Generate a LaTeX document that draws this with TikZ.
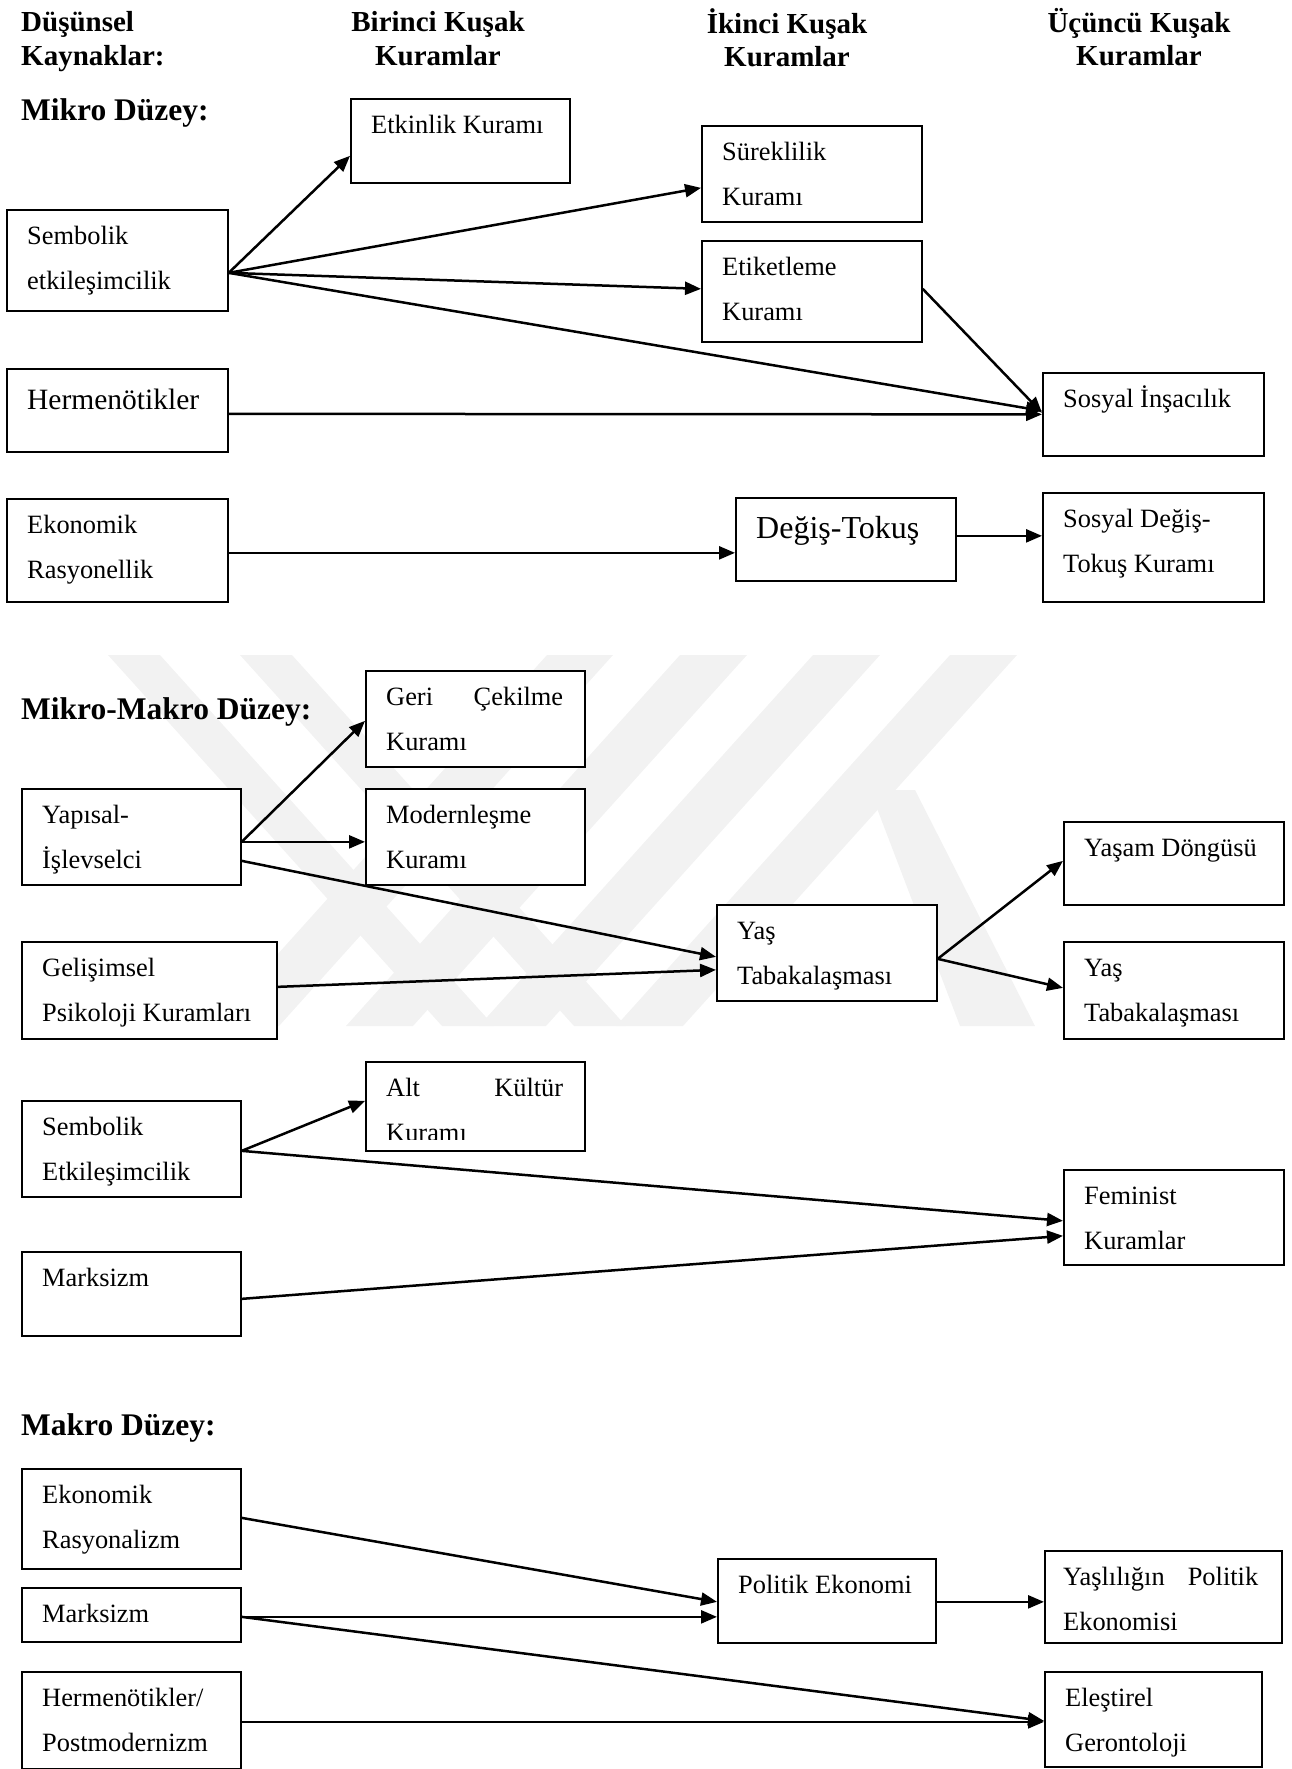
\documentclass[tikz,border=0pt]{standalone}
\usepackage{fontspec}
\setmainfont{Liberation Serif}
\usetikzlibrary{arrows.meta}
\newcommand\govde{\fontsize{26.4}{45}\selectfont}
\newcommand\baslikfont{\fontsize{29}{33.5}\selectfont\bfseries}
\newcommand\duzeyfont{\fontsize{31.5}{38}\selectfont\bfseries}
\begin{document}
\begin{tikzpicture}[x=1pt,y=-1pt,
  kutu/.style 2 args={draw,fill=white,line width=1.7pt,anchor=north west,inner sep=0,minimum width=#1,minimum height=#2},
  yazi/.style={anchor=north west,inner sep=0,align=left,font=\govde},
  ok/.style={line width=2.5pt,-{Triangle[length=16pt,width=13pt]}},
  baslik/.style={anchor=north,inner sep=0,align=center,font=\baslikfont},
  duzey/.style={anchor=base west,inner sep=0,font=\duzeyfont},
  filigran/.style={fill=black!5}]
\useasboundingbox (0,0) rectangle (1292,1769);
% watermark
\begin{scope}
\clip (60,655) rectangle (1100,1026);
\fill[filigran] (108,655) -- (160,655) -- (494,1026) -- (442,1026) -- cycle;
\fill[filigran] (240,655) -- (292,655) -- (626,1026) -- (574,1026) -- cycle;
\fill[filigran] (547,655) -- (613,655) -- (279,1026) -- (213,1026) -- cycle;
\fill[filigran] (680,655) -- (747,655) -- (413,1026) -- (346,1026) -- cycle;
\fill[filigran] (813,655) -- (880,655) -- (546,1026) -- (479,1026) -- cycle;
\fill[filigran] (950,655) -- (1017,655) -- (683,1026) -- (616,1026) -- cycle;
\fill[filigran] (870,790) -- (915,790) -- (1035,1026) -- (960,1026) -- cycle;
\end{scope}
% headings
\node[baslik,anchor=north west,align=left] (kaynak) at (21,8) {\strut Düşünsel\\Kaynaklar:};
\node[baslik] (birinci) at (438,8) {\strut Birinci Kuşak\\Kuramlar};
\node[baslik] (ikinci) at (787,8) {\strut İkinci Kuşak\\Kuramlar};
\node[baslik] (ucuncu) at (1139,8) {\strut Üçüncü Kuşak\\Kuramlar};
\node[duzey] (mikro) at (21,120) {Mikro Düzey:};
\node[duzey] (mikromakro) at (21,719) {Mikro-Makro Düzey:};
\node[duzey] (makro) at (21,1435) {Makro Düzey:};
% mikro
\node[kutu={219}{84}] (etkinlik) at (350,98) {};
\node[yazi] (etkinlik-y) at ([shift={(21,4)}]etkinlik.north west) {\strut Etkinlik Kuramı};
\node[kutu={220}{96}] (sureklilik) at (701,125) {};
\node[yazi] (sureklilik-y) at ([shift={(21,4)}]sureklilik.north west) {\strut Süreklilik\\Kuramı};
\node[kutu={220}{101}] (etiketleme) at (701,240) {};
\node[yazi] (etiketleme-y) at ([shift={(21,4)}]etiketleme.north west) {\strut Etiketleme\\Kuramı};
\node[kutu={221}{101}] (sembolik) at (6,209) {};
\node[yazi] (sembolik-y) at ([shift={(21,4)}]sembolik.north west) {\strut Sembolik\\etkileşimcilik};
\node[kutu={221}{83}] (herm) at (6,368) {};
\node[yazi,font=\fontsize{29.5}{45}\selectfont] (herm-y) at ([shift={(21,9.5)}]herm.north west) {\strut Hermenötikler};
\node[kutu={221}{83}] (insacilik) at (1042,372) {};
\node[yazi] (insacilik-y) at ([shift={(21,4)}]insacilik.north west) {\strut Sosyal İnşacılık};
\node[kutu={221}{103}] (rasyonellik) at (6,498) {};
\node[yazi] (rasyonellik-y) at ([shift={(21,4)}]rasyonellik.north west) {\strut Ekonomik\\Rasyonellik};
\node[kutu={220}{83}] (degis) at (735,497) {};
\node[yazi,font=\fontsize{32}{45}\selectfont] (degis-y) at ([shift={(21,9.5)}]degis.north west) {\strut Değiş-Tokuş};
\node[kutu={221}{109}] (sosyaldegis) at (1042,492) {};
\node[yazi] (sosyaldegis-y) at ([shift={(21,4)}]sosyaldegis.north west) {\strut Sosyal Değiş-\\Tokuş Kuramı};
\draw[ok] ([yshift=-12.5]sembolik.east) -- ([yshift=-15]etkinlik.west);
\draw[ok] ([yshift=-12.5]sembolik.east) -- ([yshift=-14]sureklilik.west);
\draw[ok] ([yshift=-12.5]sembolik.east) -- ([yshift=2.5]etiketleme.west);
\draw[ok] ([yshift=-12.5]sembolik.east) -- ([yshift=3.5]insacilik.west);
\draw[ok] ([yshift=2.5]etiketleme.east) -- ([yshift=1.5]insacilik.west);
\draw[ok] ([yshift=-3.5]herm.east) -- (insacilik.west);
\draw[ok] ([yshift=-2.5]rasyonellik.east) -- ([yshift=-13.5]degis.west);
\draw[ok] ([yshift=3.5]degis.east) -- ([yshift=11.5]sosyaldegis.west);
% mikro-makro
\node[kutu={219}{96}] (gericekilme) at (365,670) {};
\node[yazi,text width=177] (gericekilme-y) at ([shift={(21,4)}]gericekilme.north west) {\strut Geri\hfill Çekilme\\Kuramı};
\node[kutu={219}{96}] (modernlesme) at (365,788) {};
\node[yazi] (modernlesme-y) at ([shift={(21,4)}]modernlesme.north west) {\strut Modernleşme\\Kuramı};
\node[kutu={219}{96}] (yapisal) at (21,788) {};
\node[yazi] (yapisal-y) at ([shift={(21,4)}]yapisal.north west) {\strut Yapısal-\\İşlevselci};
\node[kutu={255}{97}] (gelisimsel) at (21,941) {};
\node[yazi] (gelisimsel-y) at ([shift={(21,4)}]gelisimsel.north west) {\strut Gelişimsel\\Psikoloji Kuramları};
\node[kutu={220}{96}] (yastab) at (716,904) {};
\node[yazi] (yastab-y) at ([shift={(21,4)}]yastab.north west) {\strut Yaş\\Tabakalaşması};
\node[kutu={220}{83}] (yasam) at (1063,821) {};
\node[yazi] (yasam-y) at ([shift={(21,4)}]yasam.north west) {\strut Yaşam Döngüsü};
\node[kutu={220}{97}] (yastab2) at (1063,941) {};
\node[yazi] (yastab2-y) at ([shift={(21,4)}]yastab2.north west) {\strut Yaş\\Tabakalaşması};
\node[kutu={219}{89}] (altkultur) at (365,1061) {};
\begin{scope}
\clip (altkultur.north west) rectangle ([yshift=12]altkultur.south east);
\node[yazi,text width=177] (altkultur-y) at ([shift={(21,4)}]altkultur.north west) {\strut Alt\hfill Kültür\\Kuramı};
\end{scope}
\node[kutu={219}{96}] (sembolik2) at (21,1100) {};
\node[yazi] (sembolik2-y) at ([shift={(21,4)}]sembolik2.north west) {\strut Sembolik\\Etkileşimcilik};
\node[kutu={219}{84}] (marksizm) at (21,1251) {};
\node[yazi] (marksizm-y) at ([shift={(21,4)}]marksizm.north west) {\strut Marksizm};
\node[kutu={220}{95}] (feminist) at (1063,1169) {};
\node[yazi] (feminist-y) at ([shift={(21,4)}]feminist.north west) {\strut Feminist\\Kuramlar};
\draw[ok] ([yshift=-5]yapisal.east) -- ([yshift=-2]gericekilme.west);
\draw[ok] ([yshift=-5]yapisal.east) -- ([yshift=-5]modernlesme.west);
\draw[ok] ([yshift=-24]yapisal.east) -- ([yshift=-4]yastab.west);
\draw[ok] ([yshift=3.5]gelisimsel.east) -- ([yshift=-17]yastab.west);
\draw[ok] ([yshift=-6]yastab.east) -- ([yshift=2.5]yasam.west);
\draw[ok] ([yshift=-6]yastab.east) -- ([yshift=2.5]yastab2.west);
\draw[ok] ([yshift=-2]sembolik2.east) -- ([yshift=5.5]altkultur.west);
\draw[ok] ([yshift=-2]sembolik2.east) -- ([yshift=-3.5]feminist.west);
\draw[ok] ([yshift=-5]marksizm.east) -- ([yshift=-18.5]feminist.west);
% makro
\node[kutu={219}{100}] (rasyonalizm) at (21,1468) {};
\node[yazi] (rasyonalizm-y) at ([shift={(21,4)}]rasyonalizm.north west) {\strut Ekonomik\\Rasyonalizm};
\node[kutu={219}{54}] (marksizm2) at (21,1587) {};
\node[yazi] (marksizm2-y) at ([shift={(21,4)}]marksizm2.north west) {\strut Marksizm};
\node[kutu={219}{97}] (postmodern) at (21,1671) {};
\node[yazi] (postmodern-y) at ([shift={(21,4)}]postmodern.north west) {\strut Hermenötikler/\\Postmodernizm};
\node[kutu={218}{84}] (politik) at (717,1558) {};
\node[yazi] (politik-y) at ([shift={(21,4)}]politik.north west) {\strut Politik Ekonomi};
\node[kutu={237}{92}] (yaslilik) at (1044,1550) {};
\node[yazi,text width=195] (yaslilik-y) at ([shift={(19,4)}]yaslilik.north west) {\strut Yaşlılığın\hfill Politik\\Ekonomisi};
\node[kutu={217}{95}] (elestirel) at (1044,1671) {};
\node[yazi] (elestirel-y) at ([shift={(21,4)}]elestirel.north west) {\strut Eleştirel\\Gerontoloji};
\draw[ok] ([yshift=1]rasyonalizm.east) -- ([yshift=-1]politik.west);
\draw[ok] ([yshift=-2]marksizm2.east) -- ([yshift=-16]politik.west);
\draw[ok] ([yshift=-2]marksizm2.east) -- ([yshift=-1.5]elestirel.west);
\draw[ok] ([yshift=-1.5]postmodern.east) -- ([yshift=-2.5]elestirel.west);
\draw[ok] ([yshift=-1]politik.east) -- ([yshift=-5]yaslilik.west);
\end{tikzpicture}
\end{document}
